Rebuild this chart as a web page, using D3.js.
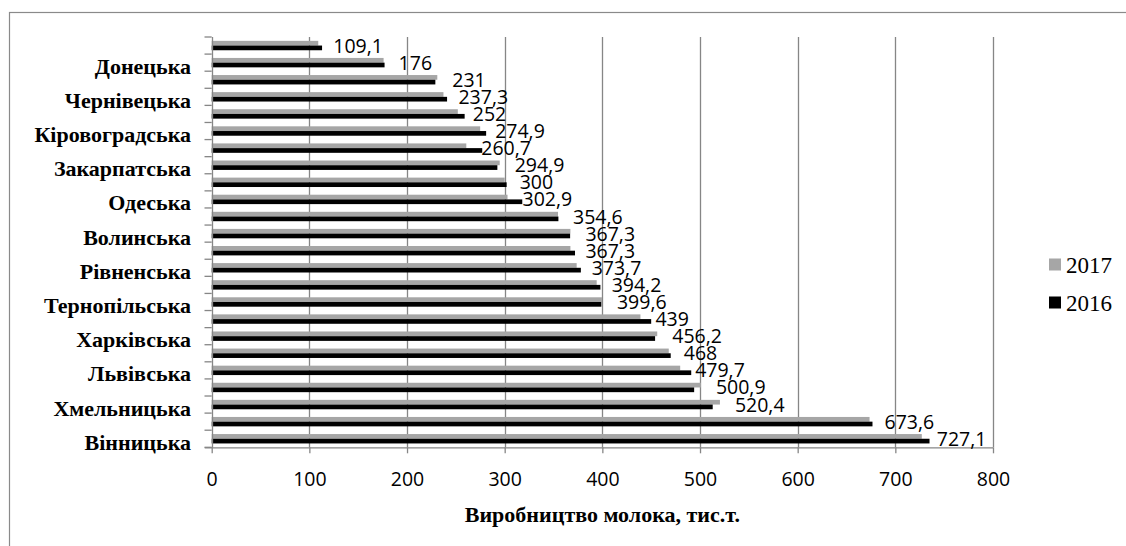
<!DOCTYPE html>
<html>
<head>
<meta charset="utf-8">
<script src="https://cdn.jsdelivr.net/npm/d3@7"></script>
<style>
  html, body { margin: 0; padding: 0; background: #fff; }
  svg { display: block; }
</style>
</head>
<body>
<svg id="chart" width="1126" height="546"></svg>
<script>
// ---- data (top to bottom) ----
const categories = [
  "Луганська", "Донецька", "Запорізька", "Чернівецька", "Миколаївська", "Кіровоградська",
  "Херсонська", "Закарпатська", "Дніпропетровська", "Одеська", "Сумська", "Волинська",
  "Чернігівська", "Рівненська", "Черкаська", "Тернопільська", "Київська", "Харківська",
  "Івано-Франківська", "Львівська", "Полтавська", "Хмельницька", "Житомирська", "Вінницька"
];
const shownLabels = [
  "Донецька", "Чернівецька", "Кіровоградська", "Закарпатська", "Одеська", "Волинська",
  "Рівненська", "Тернопільська", "Харківська", "Львівська", "Хмельницька", "Вінницька"
];
const values2017 = [109.1, 176, 231, 237.3, 252, 274.9, 260.7, 294.9, 300, 302.9, 354.6, 367.3,
                    367.3, 373.7, 394.2, 399.6, 439, 456.2, 468, 479.7, 500.9, 520.4, 673.6, 727.1];
const values2016 = [113, 177, 229, 241, 259, 281, 277, 292.5, 302, 318, 355, 367,
                    372, 378, 398, 399, 450, 454, 470, 491, 494, 513, 676.6, 735];
const seriesNames = ["2017", "2016"];
const seriesColors = ["#a6a6a6", "#000000"];
const xTicks = [0, 100, 200, 300, 400, 500, 600, 700, 800];
const xTitle = "Виробництво молока, тис.т.";

// ---- layout ----
const svg = d3.select("#chart");
const plot = { left: 211.7, right: 993, top: 37, bottom: 447.3 };
const gridColor = "#868686";

// outer frame
svg.append("rect")
  .attr("x", 9.5).attr("y", 12.5)
  .attr("width", 1200).attr("height", 600)
  .attr("fill", "none").attr("stroke", "#8a8a8a").attr("stroke-width", 1.2);

const x = d3.scaleLinear().domain([0, 800]).range([plot.left, plot.right]);
const y0 = d3.scaleBand().domain(categories).range([plot.top, plot.bottom])
  .paddingInner(0.45).paddingOuter(0.225);
const y1 = d3.scaleBand().domain(seriesNames).range([0, y0.bandwidth()]);
const yIdx = d3.scaleLinear().domain([0, categories.length]).range([plot.top, plot.bottom]);

// gridlines
svg.append("g").selectAll("line").data(xTicks.slice(1)).join("line")
  .attr("x1", d => Math.round(x(d)) + 0.5).attr("x2", d => Math.round(x(d)) + 0.5)
  .attr("y1", plot.top).attr("y2", plot.bottom)
  .attr("stroke", gridColor).attr("stroke-width", 1.3);

// bars
const rows = categories.map((c, i) => ({ cat: c, vals: [values2017[i], values2016[i]] }));
const g = svg.append("g");
rows.forEach(r => {
  seriesNames.forEach((s, j) => {
    g.append("rect")
      .attr("x", x(0))
      .attr("y", y0(r.cat) + y1(s))
      .attr("width", x(r.vals[j]) - x(0))
      .attr("height", y1.bandwidth())
      .attr("fill", seriesColors[j]);
  });
});

// left axis line + ticks
svg.append("line")
  .attr("x1", Math.round(plot.left) + 0.5).attr("x2", Math.round(plot.left) + 0.5)
  .attr("y1", plot.top).attr("y2", plot.bottom + 0.5)
  .attr("stroke", gridColor).attr("stroke-width", 1.3);
svg.append("g").selectAll("line").data(d3.range(categories.length + 1)).join("line")
  .attr("x1", 204.5).attr("x2", plot.left)
  .attr("y1", d => yIdx(d)).attr("y2", d => yIdx(d))
  .attr("stroke", gridColor).attr("stroke-width", 1.3);

// category labels (every other)
svg.append("g").selectAll("text").data(categories.filter(c => shownLabels.includes(c))).join("text")
  .attr("x", 191)
  .attr("y", d => y0(d) + y0.bandwidth() / 2 + 11)
  .attr("text-anchor", "end")
  .attr("font-family", "'Liberation Serif', 'Times New Roman', serif")
  .attr("font-weight", "bold")
  .attr("font-size", 22)
  .attr("fill", "#000")
  .text(d => d);

// bottom axis
const xAxis = d3.axisBottom(x).tickValues(xTicks).tickSize(6).tickSizeOuter(0).tickFormat(d3.format("d"));
const ax = svg.append("g").attr("transform", `translate(0,${plot.bottom})`).call(xAxis);
ax.select(".domain").attr("stroke", gridColor).attr("stroke-width", 1.3)
  .attr("d", `M${plot.left - 7},0.5H${plot.right}`);
ax.selectAll(".tick line").attr("stroke", gridColor).attr("stroke-width", 1.3);
ax.selectAll(".tick text")
  .attr("y", 39).attr("dy", 0)
  .attr("font-family", "'Open Sans', 'Noto Sans', sans-serif")
  .attr("font-size", 19.5)
  .attr("fill", "#000");

// axis title
svg.append("text")
  .attr("x", (plot.left + plot.right) / 2)
  .attr("y", 521.5)
  .attr("text-anchor", "middle")
  .attr("font-family", "'Liberation Serif', 'Times New Roman', serif")
  .attr("font-weight", "bold")
  .attr("font-size", 22)
  .text(xTitle);

// data labels (2017 series)
svg.append("g").selectAll("text").data(rows).join("text")
  .attr("x", d => x(d.vals[0]) + 15)
  .attr("y", d => y0(d.cat) + y0.bandwidth() / 2 + 7)
  .attr("font-family", "'Open Sans', 'Noto Sans', sans-serif")
  .attr("font-size", 19.5)
  .attr("fill", "#000")
  .text(d => String(d.vals[0]).replace(".", ","));

// legend
const leg = svg.append("g");
seriesNames.forEach((s, j) => {
  const cy = 264.5 + j * 38;
  leg.append("rect").attr("x", 1049).attr("y", cy - 6).attr("width", 12).attr("height", 12)
    .attr("fill", seriesColors[j]);
  leg.append("text").attr("x", 1066).attr("y", cy + 8)
    .attr("font-family", "'Liberation Serif', 'Times New Roman', serif")
    .attr("font-size", 23)
    .text(s);
});
</script>
</body>
</html>
